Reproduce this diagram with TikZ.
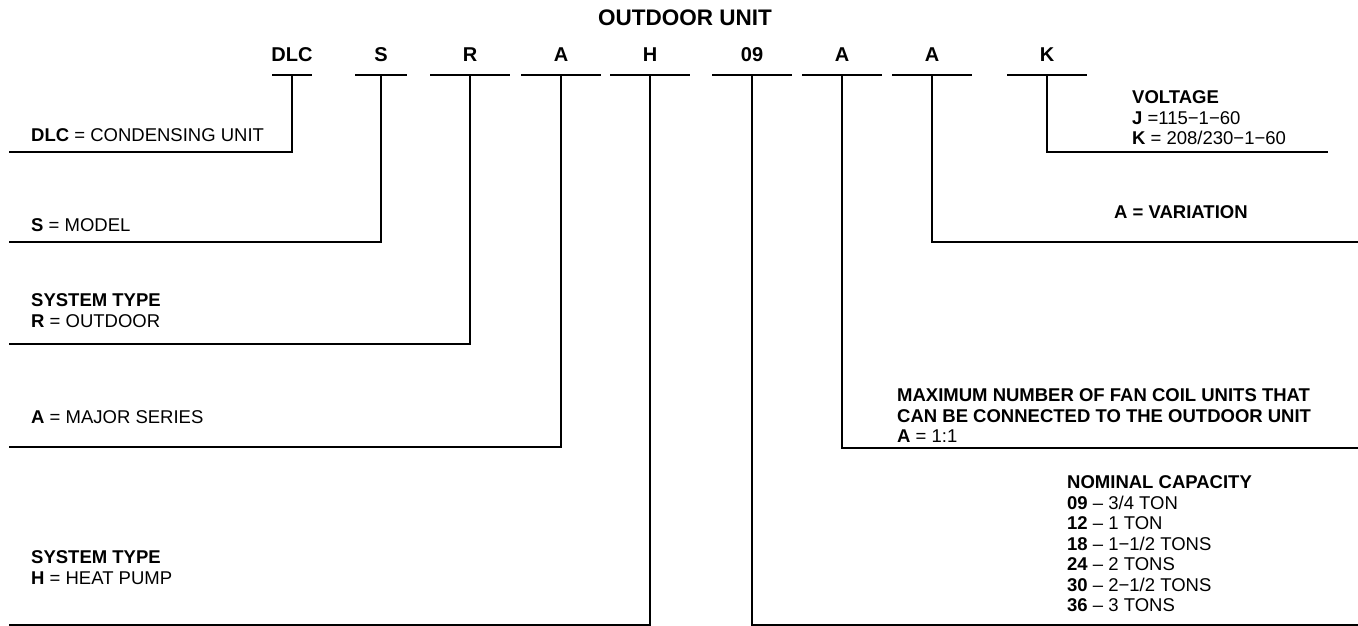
\documentclass[tikz,border=0pt]{standalone}
\usepackage{fontspec}
\setmainfont{Liberation Sans}
\usetikzlibrary{calc}

\begin{document}
\begin{tikzpicture}[
  x=1pt, y=-1pt,
  heading/.style={font=\fontsize{22.5}{26}\selectfont\bfseries, inner sep=0pt},
  code/.style={font=\fontsize{20}{24}\selectfont\bfseries, inner sep=0pt},
  desc/.style={font=\fontsize{18.5}{20.5}\selectfont, inner sep=0pt, anchor=north west, align=left},
  lead/.style={line width=2.2pt}
]
\useasboundingbox (0,0) rectangle (1358,625);

\node[heading] (title) at (685,18) {OUTDOOR UNIT};

% model number letters
\node[code] (dlc) at (292,55) {DLC};
\node[code] (model) at (381,55) {S};
\node[code] (systype) at (470,55) {R};
\node[code] (series) at (561,55) {A};
\node[code] (pump) at (650,55) {H};
\node[code] (capacity) at (752,55) {09};
\node[code] (fancoil) at (842,55) {A};
\node[code] (variation) at (932,55) {A};
\node[code] (voltage) at (1047,55) {K};

% underlines
\draw[lead] ($(dlc)+(-20,20)$) -- ($(dlc)+(20,20)$);
\draw[lead] ($(model)+(-26,20)$) -- ($(model)+(26,20)$);
\draw[lead] ($(systype)+(-40,20)$) -- ($(systype)+(40,20)$);
\draw[lead] ($(series)+(-40,20)$) -- ($(series)+(40,20)$);
\draw[lead] ($(pump)+(-40,20)$) -- ($(pump)+(40,20)$);
\draw[lead] ($(capacity)+(-40,20)$) -- ($(capacity)+(40,20)$);
\draw[lead] ($(fancoil)+(-40,20)$) -- ($(fancoil)+(40,20)$);
\draw[lead] ($(variation)+(-40,20)$) -- ($(variation)+(40,20)$);
\draw[lead] ($(voltage)+(-40,20)$) -- ($(voltage)+(40,20)$);

% descriptions
\node[desc] (dlcD) at (31,128.4) {\textbf{DLC} = CONDENSING UNIT};
\node[desc] (modelD) at (31,218.4) {\textbf{S} = MODEL};
\node[desc] (systypeD) at (31,293.4) {\textbf{SYSTEM TYPE}\\\textbf{R} = OUTDOOR};
\node[desc] (seriesD) at (31,410.4) {\textbf{A} = MAJOR SERIES};
\node[desc] (pumpD) at (31,550.4) {\textbf{SYSTEM TYPE}\\\textbf{H} = HEAT PUMP};
\node[desc] (voltageD) at (1132,90.4) {\textbf{VOLTAGE}\\\textbf{J} =115−1−60\\\textbf{K} = 208/230−1−60};
\node[desc] (variationD) at (1114,205.4) {\textbf{A = VARIATION}};
\node[desc] (fancoilD) at (897,388.4) {\textbf{MAXIMUM NUMBER OF FAN COIL UNITS THAT}\\\textbf{CAN BE CONNECTED TO THE OUTDOOR UNIT}\\\textbf{A} = 1:1};
\node[desc] (capacityD) at (1067,475.4) {\textbf{NOMINAL CAPACITY}\\\textbf{09} – 3/4 TON\\\textbf{12} – 1 TON\\\textbf{18} – 1−1/2 TONS\\\textbf{24} – 2 TONS\\\textbf{30} – 2−1/2 TONS\\\textbf{36} – 3 TONS};

% leader ends
\coordinate (dlcE) at (9,152);
\coordinate (modelE) at (9,242);
\coordinate (systypeE) at (9,344);
\coordinate (seriesE) at (9,447);
\coordinate (pumpE) at (9,625);
\coordinate (capacityE) at (1358,625);
\coordinate (fancoilE) at (1358,448);
\coordinate (variationE) at (1358,242);
\coordinate (voltageE) at (1328,152);

\draw[lead] ($(dlc)+(0,20)$) |- (dlcE);
\draw[lead] ($(model)+(0,20)$) |- (modelE);
\draw[lead] ($(systype)+(0,20)$) |- (systypeE);
\draw[lead] ($(series)+(0,20)$) |- (seriesE);
\draw[lead] ($(pump)+(0,20)$) |- (pumpE);
\draw[lead] ($(capacity)+(0,20)$) |- (capacityE);
\draw[lead] ($(fancoil)+(0,20)$) |- (fancoilE);
\draw[lead] ($(variation)+(0,20)$) |- (variationE);
\draw[lead] ($(voltage)+(0,20)$) |- (voltageE);
\end{tikzpicture}
\end{document}
